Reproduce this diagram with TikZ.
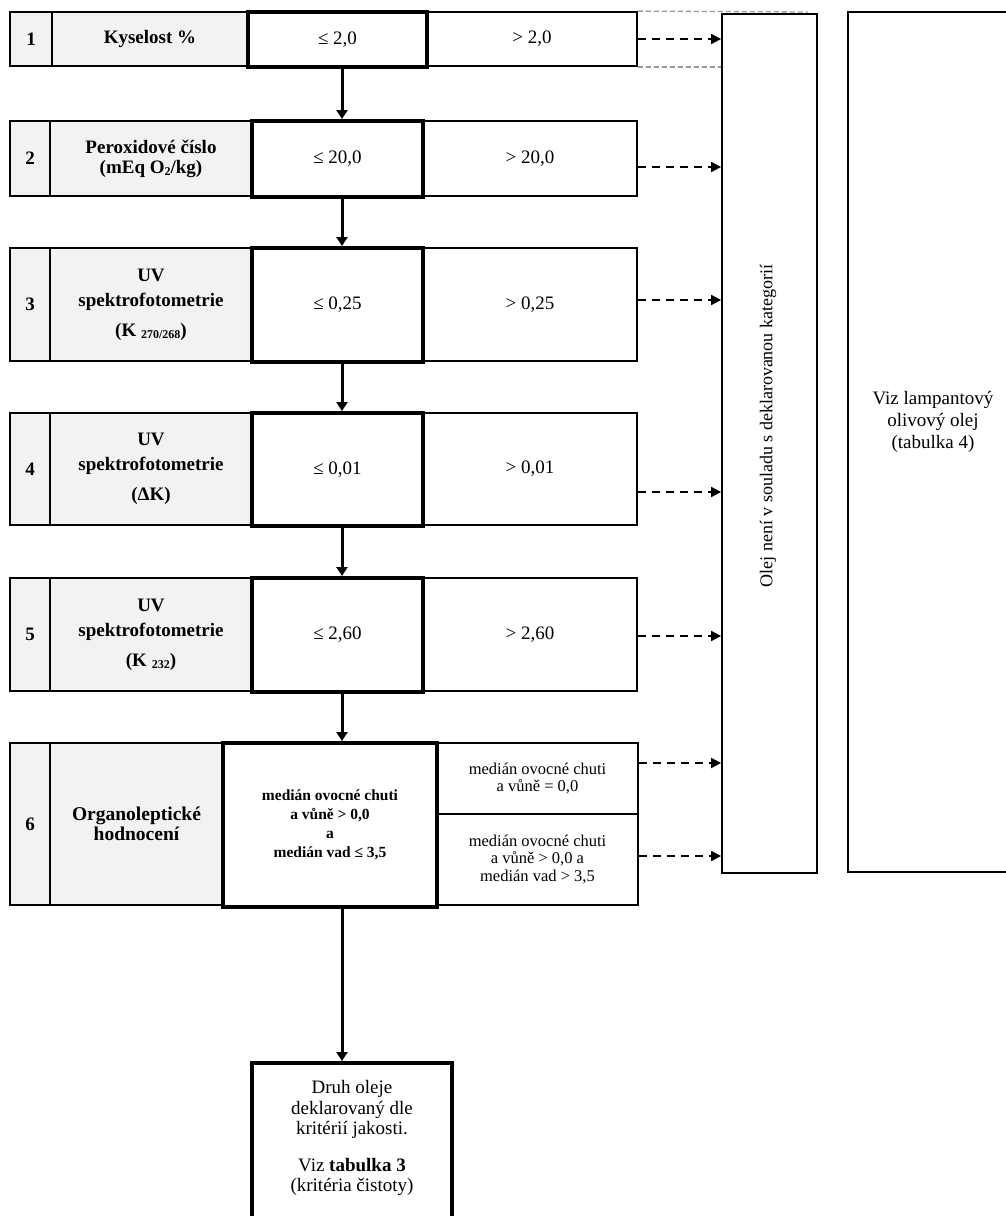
\documentclass[tikz,border=0pt]{standalone}
\usepackage{fontspec}
\setmainfont{Liberation Serif}
\usetikzlibrary{arrows.meta,calc}
\definecolor{lightg}{HTML}{F2F2F2}
\newcommand{\lowsub}[1]{\raisebox{-0.3ex}{\fontsize{12}{12}\selectfont #1}}
\begin{document}
\begin{tikzpicture}[x=1pt,y=-1pt,
  cell/.style={draw, line width=1.8pt, rectangle, inner sep=0pt, align=center,
    font=\fontsize{19}{20}\selectfont},
  graycell/.style={cell, fill=lightg, font=\bfseries\fontsize{19}{20}\selectfont},
  passbox/.style={cell, line width=4pt},
  downarrow/.style={line width=3pt, -{Triangle[width=11pt,length=9pt]}},
  failarrow/.style={line width=1.8pt, dash pattern=on 8pt off 6pt, -{Triangle[width=10pt,length=10pt]}},
  graydash/.style={draw=black!40, line width=1.3pt, dash pattern=on 5pt off 3pt},
  plain/.style={inner sep=0pt, align=center, font=\fontsize{19}{22}\selectfont}
]
\useasboundingbox (0,0) rectangle (1006,1216);
\clip (0,0) rectangle (1006,1216);

% ---------- row 1
\node[graycell, minimum width=42pt, minimum height=54pt] (n1) at (31,39) {1};
\node[graycell, minimum width=196pt, minimum height=54pt] (l1) at (150,39) {Kyselost \%};
\node[cell, minimum width=210pt, minimum height=54pt] (g1) at (532,39) {> 2,0};
\node[passbox, minimum width=179pt, minimum height=55pt] (t1) at (337.5,39.5) {≤ 2,0};

% ---------- row 2
\node[graycell, minimum width=40pt, minimum height=75pt] (n2) at (30,158.5) {2};
\node[graycell, minimum width=202pt, minimum height=75pt] (l2) at (151,158.5) {Peroxidové číslo\\(mEq O\lowsub{2}/kg)};
\node[cell, minimum width=214pt, minimum height=75pt] (g2) at (530,158.5) {> 20,0};
\node[passbox, minimum width=171pt, minimum height=76pt] (t2) at (337.5,159) {≤ 20,0};

% ---------- row 3
\node[graycell, minimum width=40pt, minimum height=113pt] (n3) at (30,304.5) {3};
\node[graycell, minimum width=202pt, minimum height=113pt] (l3) at (151,304.5) {UV\\[5pt]spektrofotometrie\\[10pt](K \lowsub{270/268})};
\node[cell, minimum width=214pt, minimum height=113pt] (g3) at (530,304.5) {> 0,25};
\node[passbox, minimum width=171pt, minimum height=114pt] (t3) at (337.5,305) {≤ 0,25};

% ---------- row 4
\node[graycell, minimum width=40pt, minimum height=112pt] (n4) at (30,469) {4};
\node[graycell, minimum width=202pt, minimum height=112pt] (l4) at (151,469) {UV\\[5pt]spektrofotometrie\\[10pt](ΔK)};
\node[cell, minimum width=214pt, minimum height=112pt] (g4) at (530,469) {> 0,01};
\node[passbox, minimum width=171pt, minimum height=113pt] (t4) at (337.5,469.5) {≤ 0,01};

% ---------- row 5
\node[graycell, minimum width=40pt, minimum height=113pt] (n5) at (30,634.5) {5};
\node[graycell, minimum width=202pt, minimum height=113pt] (l5) at (151,634.5) {UV\\[5pt]spektrofotometrie\\[10pt](K \lowsub{232})};
\node[cell, minimum width=214pt, minimum height=113pt] (g5) at (530,634.5) {> 2,60};
\node[passbox, minimum width=171pt, minimum height=114pt] (t5) at (337.5,635) {≤ 2,60};

% ---------- row 6
\node[graycell, minimum width=40pt, minimum height=162pt] (n6) at (30,824) {6};
\node[graycell, minimum width=173pt, minimum height=162pt, font=\bfseries\fontsize{19.5}{19.5}\selectfont] (l6) at (136.5,824) {Organoleptické\\hodnocení};
\node[cell, minimum width=201pt, minimum height=71pt, font=\fontsize{16.5}{17}\selectfont] (g6a) at (537.5,778.5) {medián ovocné chuti\\a vůně = 0,0};
\node[cell, minimum width=201pt, minimum height=91pt, font=\fontsize{16.5}{17.5}\selectfont] (g6b) at (537.5,859.5) {medián ovocné chuti\\a vůně > 0,0 a\\medián vad > 3,5};
\node[passbox, minimum width=214pt, minimum height=164pt, font=\bfseries\fontsize{15.5}{19}\selectfont] (t6) at (330,825) {medián ovocné chuti\\a vůně > 0,0\\a\\medián vad ≤ 3,5};

% ---------- right column boxes
\node[cell, minimum width=95pt, minimum height=859pt] (tall) at (769.5,443.5) {};
\node[plain, rotate=90, font=\fontsize{18}{18}\selectfont] (talltext) at (768,426) {Olej není v souladu s deklarovanou kategorií};
\node[cell, minimum width=172pt, minimum height=860pt] (lamp) at (934,442) {};
\node[plain] (lamptext) at (933,422) {Viz lampantový\\olivový olej\\(tabulka 4)};

% ---------- final box
\node[passbox, minimum width=200pt, minimum height=177pt] (final) at (352,1151.5) {};
\node[plain, font=\fontsize{19}{20.5}\selectfont] (finaltext) at (352,1138) {Druh oleje\\deklarovaný dle\\kritérií jakosti.\\[16pt]Viz \textbf{tabulka 3}\\(kritéria čistoty)};

% ---------- coordinates
\coordinate (ax) at (342,0);
\coordinate (gtop) at (808,12);
\coordinate (d1) at (637,39);
\coordinate (d2) at (637,167);
\coordinate (d3) at (637,300);
\coordinate (d4) at (637,492);
\coordinate (d5) at (637,636);
\coordinate (d6a) at (638,763);
\coordinate (d6b) at (638,856);

% ---------- gray dashed guides
\draw[graydash] (g1.north east) -- (gtop);
\draw[graydash] (g1.south east) -- (g1.south east -| tall.west);

% ---------- pass arrows
\draw[downarrow] (t1.south -| ax) -- (t2.north -| ax);
\draw[downarrow] (t2.south -| ax) -- (t3.north -| ax);
\draw[downarrow] (t3.south -| ax) -- (t4.north -| ax);
\draw[downarrow] (t4.south -| ax) -- (t5.north -| ax);
\draw[downarrow] (t5.south -| ax) -- (t6.north -| ax);
\draw[downarrow] (t6.south -| ax) -- (final.north -| ax);

% ---------- fail arrows
\draw[failarrow] (g1.east |- d1) -- (tall.west |- d1);
\draw[failarrow] (g2.east |- d2) -- (tall.west |- d2);
\draw[failarrow] (g3.east |- d3) -- (tall.west |- d3);
\draw[failarrow] (g4.east |- d4) -- (tall.west |- d4);
\draw[failarrow] (g5.east |- d5) -- (tall.west |- d5);
\draw[failarrow] (g6a.east |- d6a) -- (tall.west |- d6a);
\draw[failarrow] (g6b.east |- d6b) -- (tall.west |- d6b);
\end{tikzpicture}
\end{document}
